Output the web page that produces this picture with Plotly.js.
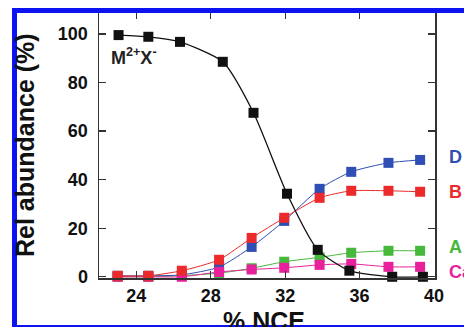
<!DOCTYPE html>
<html>
<head>
<meta charset="utf-8">
<script src="https://cdn.plot.ly/plotly-3.0.1.min.js"></script>
<style>
html,body{margin:0;padding:0;background:#fff;}
#chart{width:464px;height:327px;}
</style>
</head>
<body>
<div id="chart"></div>
<script>
// NCE (%) values
const nceColored = [23.0, 24.65, 26.45, 28.45, 30.2, 31.95, 33.85, 35.55, 37.55, 39.25];
const nceBlack   = [23.05, 24.65, 26.35, 28.65, 30.3, 32.1, 33.75, 35.45, 37.75, 39.4];
// Relative abundance (%)
const seriesMX = [99.5, 98.8, 96.7, 88.5, 67.5, 34.2, 11.1, 2.5, 0, 0];
const seriesD  = [0.4, 0.4, 0.8, 4.0, 12.3, 23.0, 36.2, 43.2, 46.9, 48.1];
const seriesB  = [0.4, 0.4, 2.5, 7.0, 16.0, 24.3, 32.5, 35.4, 35.4, 35.0];
const seriesA  = [0, 0, 0.5, 1.5, 3.5, 6.2, 8.0, 9.9, 10.7, 10.7];
const seriesC  = [0, 0, 0, 2.0, 3.0, 3.7, 4.9, 5.3, 4.1, 4.1];
const labelMX = 'M<sup>2+</sup>X<sup>-</sup>';
const endLabels = ['D', 'B', 'A', 'Ca'];
const endValues = [49.4, 35.0, 12.3, 2.0];
const xTickVals = [24, 28, 32, 36, 40];
const yTickVals = [0, 20, 40, 60, 80, 100];
const xTitle = '% NCE';
const yTitle = 'Rel abundance (%)';

const cBlue = '#2f4fb4', cRed = '#ec2a2c', cGreen = '#46b83c', cMag = '#e8209c', cBlack = '#111111';
const FONT = 'Liberation Sans, Arial, sans-serif';

function tr(x, y, color, lw, name) {
  return {
    x: x, y: y, type: 'scatter', mode: 'lines+markers', name: name,
    line: {color: color, width: lw, shape: 'spline', smoothing: 0.6},
    marker: {symbol: 'square', size: 10, color: color},
    cliponaxis: false
  };
}

const data = [
  tr(nceColored, seriesA, cGreen, 1, 'A'),
  tr(nceColored, seriesD, cBlue, 1, 'D'),
  tr(nceColored, seriesC, cMag, 1, 'C'),
  tr(nceColored, seriesB, cRed, 1, 'B'),
  tr(nceBlack, seriesMX, cBlack, 1.3, 'MX')
];

const labelColors = [cBlue, cRed, cGreen, cMag];
const annotations = endLabels.map((t, i) => ({
  text: '<b>' + t + '</b>', xref: 'paper', yref: 'y', x: 1.036, y: endValues[i],
  xanchor: 'left', yanchor: 'middle', showarrow: false,
  font: {family: FONT, size: 18, color: labelColors[i]}
}));
annotations.push({
  text: '<b>' + labelMX + '</b>', xref: 'x', yref: 'y', x: 22.55, y: 90.7,
  xanchor: 'left', yanchor: 'middle', showarrow: false,
  font: {family: FONT, size: 18, color: '#222'}
});
// axis titles
annotations.push({
  text: '<b>' + xTitle + '</b>', xref: 'paper', yref: 'paper', x: (264 - 99) / 336, y: (278 - 321) / 266,
  xanchor: 'center', yanchor: 'middle', showarrow: false,
  font: {family: FONT, size: 25, color: '#111'}
});
annotations.push({
  text: '<b>' + yTitle + '</b>', xref: 'paper', yref: 'paper', x: (25 - 99) / 336, y: (278 - 145) / 266,
  xanchor: 'center', yanchor: 'middle', showarrow: false, textangle: -90,
  font: {family: FONT, size: 25, color: '#111'}
});

const layout = {
  width: 464, height: 327,
  margin: {l: 99, r: 29, t: 12, b: 49, pad: 0},
  paper_bgcolor: '#fff', plot_bgcolor: '#fff',
  showlegend: false,
  font: {family: FONT, color: '#111'},
  xaxis: {
    automargin: false,
    range: [22.0, 40.05], tickmode: 'array', tickvals: xTickVals,
    ticktext: xTickVals.map(v => '<b>' + v + '</b>'),
    ticks: 'inside', ticklen: 7, tickwidth: 1.3, tickcolor: '#333',
    showline: true, linecolor: '#333', linewidth: 1.5, mirror: 'ticks',
    showgrid: false, zeroline: false,
    tickfont: {family: FONT, size: 18, color: '#111'},
    ticklabelstandoff: 1
  },
  yaxis: {
    automargin: false,
    range: [-0.5, 109], tickmode: 'array', tickvals: yTickVals,
    ticktext: yTickVals.map(v => '<b>' + v + '</b>'),
    ticks: 'inside', ticklen: 7, tickwidth: 1.3, tickcolor: '#333',
    showline: true, linecolor: '#333', linewidth: 1.5, mirror: 'ticks',
    showgrid: false, zeroline: false,
    tickfont: {family: FONT, size: 18, color: '#111'},
    ticklabelstandoff: 6
  },
  annotations: annotations,
  shapes: [{
    type: 'rect', xref: 'paper', yref: 'paper', layer: 'above',
    x0: (14.5 - 99) / 336, x1: (475 - 99) / 336,
    y0: (278 - 327.5) / 266, y1: (278 - 10.5) / 266,
    line: {color: '#0b14f0', width: 5}, fillcolor: 'rgba(0,0,0,0)'
  }]
};

Plotly.newPlot('chart', data, layout, {displayModeBar: false, staticPlot: true});
</script>
</body>
</html>
